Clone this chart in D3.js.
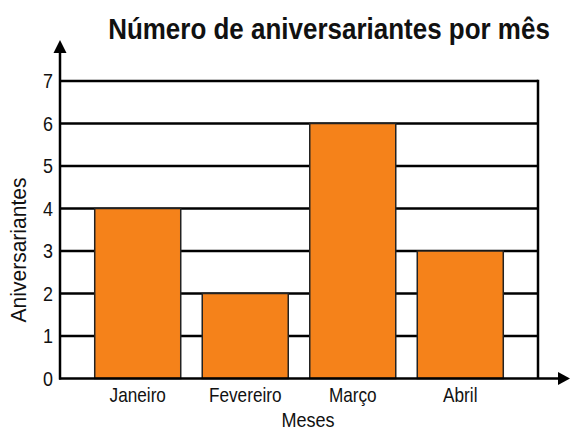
<!DOCTYPE html>
<html><head><meta charset="utf-8">
<script src="https://cdn.jsdelivr.net/npm/d3@7"></script>
<style>
html,body{margin:0;padding:0;background:#fff;}
svg{display:block;}
text{font-family:"Liberation Sans","Arial",sans-serif;fill:#111;}
</style></head>
<body><svg id="c" width="571" height="432"></svg>
<script>
const title = "Número de aniversariantes por mês";
const xTitle = "Meses";
const yTitle = "Aniversariantes";
const months = ["Janeiro", "Fevereiro", "Março", "Abril"];
const counts = [4, 2, 6, 3];
const yTicks = [0, 1, 2, 3, 4, 5, 6, 7];

const svg = d3.select("#c");
const L = 60, R = 538, T = 81, B = 378.5;
const SX = 0.86; // condensed look

const x = d3.scaleBand().domain(months).range([L, R]).paddingInner(0.2).paddingOuter(0.323);
const y = d3.scaleLinear().domain([0, 7]).range([B, T]);

// gridlines
svg.append("g").selectAll("line").data(yTicks.filter(d => d > 0)).join("line")
  .attr("x1", L).attr("x2", R).attr("y1", d => y(d)).attr("y2", d => y(d))
  .attr("stroke", "#000").attr("stroke-width", 2.5);
// right border
svg.append("line").attr("x1", R).attr("x2", R).attr("y1", y(7) - 1.2).attr("y2", B)
  .attr("stroke", "#000").attr("stroke-width", 2.5);

// bars
svg.append("g").selectAll("rect").data(months).join("rect")
  .attr("x", d => x(d)).attr("width", x.bandwidth())
  .attr("y", (d, i) => y(counts[i])).attr("height", (d, i) => B - y(counts[i]))
  .attr("fill", "#F5821A").attr("stroke", "#222").attr("stroke-width", 1.5);

// axes with arrows
svg.append("line").attr("x1", L).attr("x2", L).attr("y1", B + 1).attr("y2", 50)
  .attr("stroke", "#000").attr("stroke-width", 2.5);
svg.append("path").attr("d", `M${L},40 L${L - 6.5},53 L${L + 6.5},53 Z`).attr("fill", "#000");
svg.append("line").attr("x1", L - 1).attr("x2", 562).attr("y1", B).attr("y2", B)
  .attr("stroke", "#000").attr("stroke-width", 2.5);
svg.append("path").attr("d", `M570,${B} L558,${B - 6.5} L558,${B + 6.5} Z`).attr("fill", "#000");

// y tick labels
svg.append("g").selectAll("text").data(yTicks).join("text")
  .attr("transform", d => `translate(53,${y(d) + 7}) scale(0.92,1)`)
  .attr("text-anchor", "end").attr("font-size", 19.5).text(d => d);

// x tick labels
svg.append("g").selectAll("text").data(months).join("text")
  .attr("transform", d => `translate(${x(d) + x.bandwidth() / 2},402) scale(${SX},1)`)
  .attr("text-anchor", "middle").attr("font-size", 20).text(d => d);

// title (condensed via horizontal scale to fit the reference width)
const tt = svg.append("text").attr("text-anchor", "middle")
  .attr("font-size", 29).attr("font-weight", "bold").text(title);
const tw = tt.node().getComputedTextLength();
tt.attr("transform", `translate(329,39) scale(${442 / tw},1)`);

svg.append("text").attr("transform", `translate(308,427) scale(${SX},1)`).attr("text-anchor", "middle")
  .attr("font-size", 21).text(xTitle);
const yt = svg.append("text").attr("text-anchor", "middle").attr("font-size", 22).text(yTitle);
const yw = yt.node().getComputedTextLength();
yt.attr("transform", `translate(26,250) rotate(-90) scale(${145 / yw},1)`);
</script></body></html>
